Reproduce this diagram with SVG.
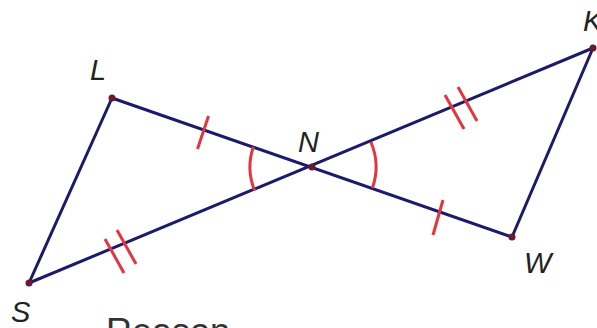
<svg xmlns="http://www.w3.org/2000/svg" width="597" height="328" viewBox="0 0 597 328">
<style>
.seg{stroke:#1c1a6a;stroke-width:3;fill:none;stroke-linecap:round}
.mark{stroke:#e2363e;stroke-width:3;fill:none;stroke-linecap:butt}
.pt{fill:#6a1a30}
.lbl{font-family:"Liberation Sans",Arial,sans-serif;font-style:italic;font-size:29px;fill:#222}
</style>
<rect width="597" height="328" fill="#ffffff"/>
<g id="connectors">
<line class="seg" x1="112" y1="98" x2="512" y2="237"/>
<line class="seg" x1="29" y1="283" x2="593" y2="48"/>
<line class="seg" x1="112" y1="98" x2="29" y2="283"/>
<line class="seg" x1="593" y1="48" x2="512" y2="237"/>
</g>
<g id="marks">
<line class="mark" x1="208.5" y1="116" x2="197.5" y2="149"/>
<line class="mark" x1="443" y1="200" x2="433" y2="235"/>
<line class="mark" x1="117" y1="230" x2="136" y2="264"/>
<line class="mark" x1="105" y1="239" x2="124" y2="273"/>
<line class="mark" x1="458" y1="87" x2="477" y2="121"/>
<line class="mark" x1="445" y1="95" x2="464" y2="129"/>
<path class="mark" d="M253.4,146.8 A62,62 0 0 0 254.6,190.5"/>
<path class="mark" d="M370.9,142 A64,64 0 0 1 372.4,188.1"/>
</g>
<g id="L"><circle class="pt" cx="112" cy="98" r="3.5"/><text class="lbl" x="90" y="80">L</text></g>
<g id="N"><circle class="pt" cx="312" cy="167" r="3.5"/><text class="lbl" x="298" y="152">N</text></g>
<g id="K"><circle class="pt" cx="593" cy="48" r="3.5"/><text class="lbl" x="583" y="31">K</text></g>
<g id="W"><circle class="pt" cx="512" cy="237" r="3.5"/><text class="lbl" x="524" y="273">W</text></g>
<g id="S"><circle class="pt" cx="29" cy="283" r="3.5"/><text class="lbl" x="11" y="322">S</text></g>
<text x="106" y="344" style="font-family:'Liberation Sans',Arial,sans-serif;font-size:36px;fill:#333">Reason</text>
</svg>
